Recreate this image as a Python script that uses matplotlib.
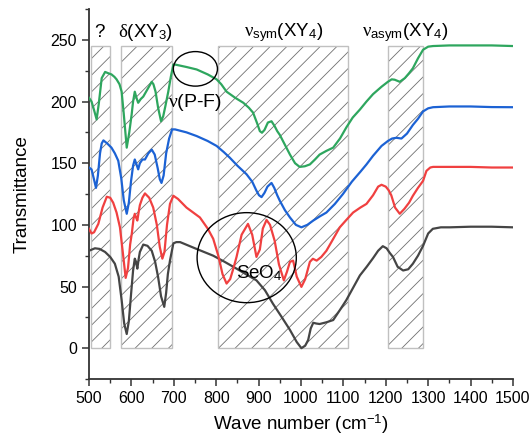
import matplotlib
matplotlib.use("Agg")
import matplotlib.pyplot as plt
from matplotlib.patches import Rectangle, Ellipse
from matplotlib.ticker import MultipleLocator

plt.rcParams["font.family"] = ["Liberation Sans", "DejaVu Sans"]
plt.rcParams["mathtext.fontset"] = "custom"
plt.rcParams["mathtext.rm"] = "Liberation Sans"
plt.rcParams["mathtext.it"] = "Liberation Serif"
plt.rcParams["mathtext.bf"] = "Liberation Sans:bold"
plt.rcParams["hatch.linewidth"] = 0.6

# spectra (wave number, transmittance), offset traces
black_x = [500, 514, 525, 538, 550, 561, 570, 577, 583, 589, 594, 600, 604, 608, 611, 614, 617, 620,
           628, 638, 648, 656, 663, 670, 677.5, 682, 686, 691, 699, 706, 715, 750, 793, 820, 848, 875,
           895, 915, 934, 955, 974, 990, 1001, 1010, 1017, 1023, 1029, 1036, 1044, 1060, 1076, 1090,
           1107, 1123, 1139, 1155, 1170, 1182, 1193, 1202, 1210, 1217, 1228, 1241, 1253, 1264, 1276,
           1288, 1300, 1311, 1330, 1351, 1400, 1450, 1500]
black_y = [79, 81, 80.5, 78, 74, 68.5, 58, 39, 20, 11.5, 22, 47, 63, 72.6, 70, 64.5, 72, 78,
           84, 83, 79, 70, 57.7, 42, 33.5, 45, 60, 71, 85, 86, 86, 81, 75, 70, 64.5, 59,
           55, 47, 36, 25, 14.8, 5, 0, 2, 6.7, 16, 20.6, 20, 19.6, 21, 22.8, 30,
           39, 49, 59, 66, 73, 79, 82.7, 81, 77, 74, 66, 63, 64, 68.5, 75,
           83, 93, 96.8, 98, 98, 98.5, 98.5, 98]

red_x = [500, 506, 512, 522, 532, 542, 550, 557, 565, 573, 579, 586.5, 592, 597, 601, 605, 608, 611,
         614, 617, 620, 626, 632, 642, 651.5, 660, 667, 673, 678, 684, 691, 699, 710, 730, 761.6, 780,
         793, 805, 815, 824.5, 833, 840, 848, 860, 875, 885, 895, 903, 910, 918.8, 927, 938, 948,
         959.6, 967, 974, 981.5, 990, 1001, 1010, 1021, 1028, 1037, 1048, 1060, 1075, 1091.5, 1107,
         1123, 1140, 1154.5, 1170, 1182, 1190, 1200, 1207, 1213, 1222, 1233, 1244, 1255, 1264, 1276,
         1288, 1296, 1305, 1311.5, 1350, 1400, 1450, 1500]
red_y = [96.8, 93, 94, 100.8, 114, 122.8, 122, 118, 110, 98, 80, 57, 65, 84, 93, 105, 109, 106,
         103.5, 110, 116, 122, 125.5, 122, 114, 100, 82, 72.6, 78, 100, 117, 123.6, 121, 114, 106, 97,
         88.7, 75, 60, 52.4, 56, 64, 74, 92, 100.8, 92, 74, 80, 97, 104, 100, 87, 68,
         55, 62, 70, 71, 58, 49.7, 56, 70, 72.5, 71, 74, 79, 88, 98, 104,
         110, 114, 117, 124, 131, 132.5, 131, 128, 124, 114, 109, 113, 118, 123.6, 130,
         135.7, 143.8, 146.5, 147, 147, 147, 146.5, 146.5]

blue_x = [500, 506, 511, 516.5, 521, 526, 530, 534, 543, 553, 561, 569, 576, 582, 589, 594, 599, 604,
          608, 612, 616, 620, 626, 632, 640, 648, 655, 662, 667, 671, 676, 682, 689, 696, 703, 730,
          754, 780, 801, 818, 832, 850, 871.7, 885, 895, 901, 907, 914, 921, 930.5, 937, 944, 950,
          962, 974, 988, 1001, 1015, 1029, 1045, 1060, 1080, 1099, 1120, 1140, 1154.5, 1170, 1190,
          1205, 1215, 1225, 1237, 1250, 1264, 1276, 1288, 1300, 1311.5, 1350, 1400, 1450, 1500]
blue_y = [146.5, 145, 138, 130, 140, 158, 166, 168.5, 166, 162.6, 158, 152, 138, 120, 109, 118, 135, 148,
          153, 149, 145, 150, 153, 153, 158, 161, 157, 146, 137, 134, 140, 158, 170, 177.4, 177.4, 175,
          172, 168, 164, 159, 154.5, 148, 141, 135, 127.7, 124, 122.5, 126, 131, 134, 130, 124, 119.6,
          112, 106, 100, 98, 100, 103.5, 107, 110, 117, 125, 135, 143, 149, 156, 164,
          168, 170, 170.6, 170, 174, 181, 186, 192, 194.5, 195.4, 196, 196, 195.5, 195.4]

green_x = [500, 506, 512, 518, 523, 530, 538, 545, 553, 560, 565, 572, 577, 582, 589, 595, 600.6, 604,
           608, 612, 616, 622, 628, 638, 648, 652, 657, 663, 670, 675, 680, 687, 693, 699, 703, 730,
           754, 780, 801, 812, 824.5, 845, 864, 877, 887, 897, 903, 908, 914, 922, 930.5, 938, 944,
           950, 962, 974, 986, 997, 1009, 1021, 1033, 1044, 1060, 1076, 1092, 1107, 1122, 1139,
           1154.5, 1170, 1190, 1205, 1214, 1221, 1233, 1245, 1255, 1264, 1276, 1288, 1300, 1311.5,
           1350, 1400, 1450, 1500]
green_y = [203, 200, 193, 185.5, 198, 219, 224, 223, 222, 220, 218, 214, 208, 190, 162.6, 175, 189.5, 200,
           208, 203, 199, 202, 204, 210, 216, 214, 208, 195, 184, 188, 196, 208, 220, 230, 230, 228,
           226, 222, 218, 214, 208, 203, 199, 195, 191, 182, 176, 174.7, 177, 183, 184, 180, 176,
           173, 165, 157, 150, 147, 147.5, 149, 153, 157, 160, 162.6, 170, 179, 187, 193.5,
           200, 206, 212, 216, 218, 217.7, 216, 219, 223, 227, 235, 242, 244.5, 245,
           245.5, 245.5, 245.5, 245]

# shaded band regions (start, end) in cm-1
bands = [(505, 550), (575, 696), (805, 1110), (1205, 1287)]

fig = plt.figure(figsize=(5.31, 4.37), dpi=100)
ax = fig.add_axes([0.1676, 0.1327, 0.7984, 0.8466])

for x0, x1 in bands:
    ax.add_patch(Rectangle((x0, 0), x1 - x0, 245, facecolor="none", edgecolor="#707070",
                           linewidth=0, hatch="//", zorder=1))
    ax.add_patch(Rectangle((x0, 0), x1 - x0, 245, fill=False, edgecolor="#c0c0c0",
                           linewidth=1.0, zorder=1))

ax.plot(black_x, black_y, color="#454545", linewidth=1.6, zorder=3)
ax.plot(red_x, red_y, color="#f04040", linewidth=1.6, zorder=3)
ax.plot(blue_x, blue_y, color="#1c62d4", linewidth=1.6, zorder=3)
ax.plot(green_x, green_y, color="#2ea65e", linewidth=1.6, zorder=3)

ax.add_patch(Ellipse((751, 226.5), 104, 28, fill=False, edgecolor="black", linewidth=1.0, zorder=4))
ax.add_patch(Ellipse((872, 73.4), 234, 73, fill=False, edgecolor="black", linewidth=1.0, zorder=4))

ax.text(524, 256, "?", fontsize=13.5, ha="center", va="center")
ax.text(633, 256, r"$\delta$(XY$_3$)", fontsize=13.5, ha="center", va="center")
ax.text(958, 256, r"$\nu_{\mathrm{sym}}$(XY$_4$)", fontsize=13.5, ha="center", va="center")
ax.text(1245, 256, r"$\nu_{\mathrm{asym}}$(XY$_4$)", fontsize=13.5, ha="center", va="center")
ax.text(751, 199, r"$\nu$(P-F)", fontsize=14, ha="center", va="center", zorder=5)
ax.text(902, 61, r"SeO$_4$", fontsize=13.5, ha="center", va="center", zorder=5)

ax.set_xlim(500, 1500)
ax.set_ylim(-25, 275)
ax.xaxis.set_major_locator(MultipleLocator(100))
ax.xaxis.set_minor_locator(MultipleLocator(50))
ax.yaxis.set_major_locator(MultipleLocator(50))
ax.yaxis.set_minor_locator(MultipleLocator(25))

for side in ["top", "right"]:
    ax.spines[side].set_visible(False)
for side in ["left", "bottom"]:
    ax.spines[side].set_linewidth(1.3)
    ax.spines[side].set_color("#333333")

ax.tick_params(which="major", direction="out", length=5, width=1.1, color="#333333", labelsize=11.5)
ax.tick_params(which="minor", direction="out", length=3, width=1.0, color="#333333")

ax.set_xlabel("Wave number (cm$^{-1}$)", fontsize=13.5, labelpad=5)
ax.set_ylabel("Transmittance", fontsize=13.5, labelpad=14)

fig.savefig("out.png", dpi=100)
